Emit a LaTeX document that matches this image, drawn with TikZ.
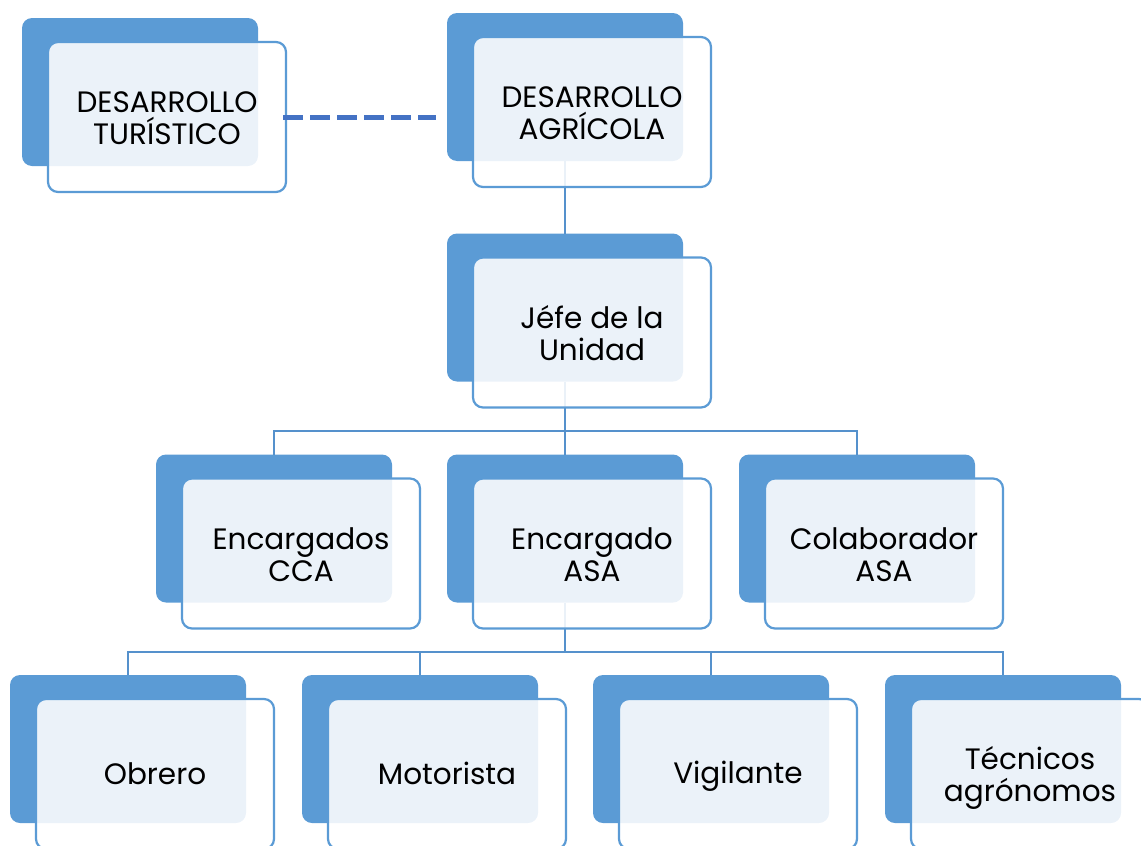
\documentclass[tikz,border=0pt]{standalone}
\usepackage{fontspec}
\setmainfont{Poppins}
\usetikzlibrary{calc}
\definecolor{boxblue}{HTML}{5B9BD5}
\definecolor{connblue}{HTML}{5591CC}
\definecolor{dashblue}{HTML}{4472C4}
\begin{document}
\begin{tikzpicture}[x=1pt,y=-1pt,
  backbox/.style={rectangle, rounded corners=10pt, fill=boxblue, draw=none,
    minimum width=236pt, minimum height=148pt, inner sep=0pt, outer sep=0pt},
  frontbox/.style={rectangle, rounded corners=10pt, fill=white, fill opacity=0.88,
    text opacity=1, draw=boxblue, line width=2.2pt, draw opacity=1,
    minimum width=238pt, minimum height=150pt, inner sep=0pt, outer sep=0pt,
    align=center, font=\fontsize{29.5}{32}\selectfont,
    execute at begin node={\rule{0pt}{27.8pt}},
    execute at end node={\rule[-7pt]{0pt}{7pt}}},
  twoline/.style={execute at begin node={\rule{0pt}{62pt}}},
  conn/.style={draw=connblue, line width=2pt},
  dashline/.style={draw=dashblue, line width=5pt, dash pattern=on 20pt off 7pt}]
\useasboundingbox (0,0) rectangle (1141,846);
% back boxes
\node[backbox] (Tb)   at (140,92) {};
\node[backbox] (Ab)   at (565,87) {};
\node[backbox] (Jb)   at (565,307.5) {};
\node[backbox] (CCAb) at (274,528.5) {};
\node[backbox] (ASAb) at (565,528.5) {};
\node[backbox] (COLb) at (857,528.5) {};
\node[backbox] (OBb)  at (128,749) {};
\node[backbox] (MOb)  at (420,749) {};
\node[backbox] (VIb)  at (711,749) {};
\node[backbox] (TEb)  at (1003,749) {};
% connectors
\coordinate (bus1) at (565,431);
\coordinate (bus2) at (565,652);
\draw[conn] (Ab.south) -- (Jb.north);
\draw[conn] (Jb.south) -- (ASAb.north);
\draw[conn] (CCAb.north) -- (CCAb.north |- bus1) -- (COLb.north |- bus1) -- (COLb.north);
\draw[conn] (ASAb.south) -- (ASAb.south |- bus2);
\draw[conn] (OBb.north) -- (OBb.north |- bus2) -- (TEb.north |- bus2) -- (TEb.north);
\draw[conn] (MOb.north) -- (MOb.north |- bus2);
\draw[conn] (VIb.north) -- (VIb.north |- bus2);
% front boxes
\node[frontbox, twoline] (T)   at ($(Tb.center)+(27,25)$)   {DESARROLLO\\TURÍSTICO};
\node[frontbox, twoline] (A)   at ($(Ab.center)+(27,25)$)   {DESARROLLO\\AGRÍCOLA};
\node[frontbox, twoline] (J)   at ($(Jb.center)+(27,25)$)   {Jéfe de la\\Unidad};
\node[frontbox, twoline] (CCA) at ($(CCAb.center)+(27,25)$) {Encargados\\CCA};
\node[frontbox, twoline] (ASA) at ($(ASAb.center)+(27,25)$) {Encargado\\ASA};
\node[frontbox, twoline] (COL) at ($(COLb.center)+(27,25)$) {Colaborador\\ASA};
\node[frontbox] (OB)  at ($(OBb.center)+(27,25)$)  {Obrero};
\node[frontbox] (MO)  at ($(MOb.center)+(27,25)$)  {Motorista};
\node[frontbox] (VI)  at ($(VIb.center)+(27,25)$)  {Vigilante};
\node[frontbox, twoline] (TE)  at ($(TEb.center)+(27,25)$)  {Técnicos\\agrónomos};
% dashed link
\draw[dashline, shorten <=-3pt, shorten >=11pt] (T.east) -- (Ab.west |- T.east);
\end{tikzpicture}
\end{document}
